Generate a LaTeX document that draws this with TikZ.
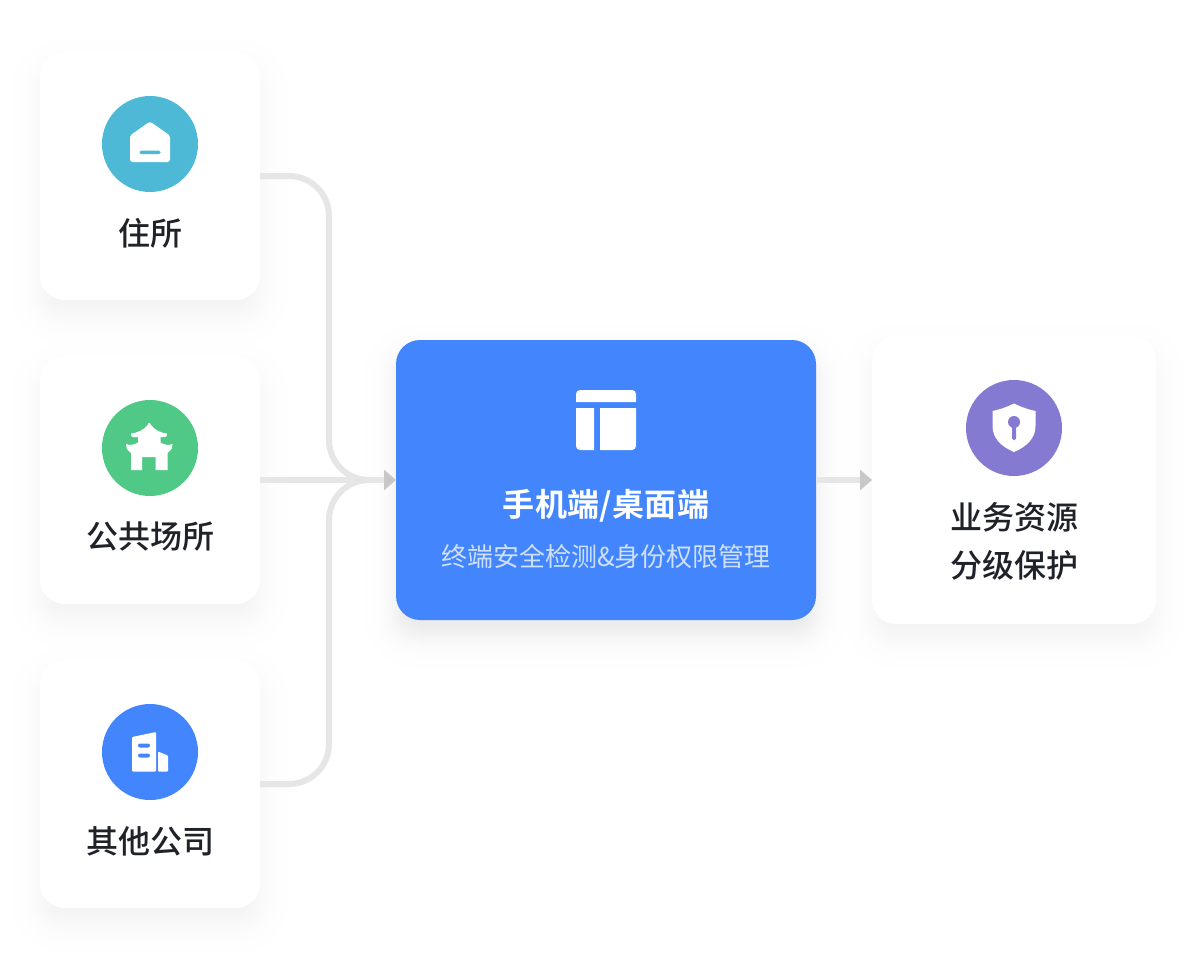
\documentclass[tikz,border=0pt]{standalone}
\usepackage{fontspec}
\usetikzlibrary{arrows.meta}
\newfontfamily\cjkmed{Noto Sans CJK SC Medium}
\newfontfamily\cjkreg{Noto Sans CJK SC}
\newfontfamily\cjkbold[LetterSpace=1]{Noto Sans CJK SC Bold}
\definecolor{tealc}{HTML}{4DB9D6}
\definecolor{greenc}{HTML}{4FC985}
\definecolor{bluec}{HTML}{4285FD}
\definecolor{purplec}{HTML}{857AD2}
\definecolor{linec}{HTML}{E6E6E6}
\definecolor{tipc}{HTML}{C8C8C8}
\definecolor{inkc}{HTML}{1F2329}
\definecolor{subc}{HTML}{CFE0FE}
\tikzset{
  card/.style={fill=white,rounded corners=24pt,inner sep=0pt,outer sep=0pt,minimum width=220pt,minimum height=248pt},
  rcard/.style={card,minimum width=284pt,minimum height=288pt},
  mainbox/.style={fill=bluec,rounded corners=24pt,inner sep=0pt,outer sep=0pt,minimum width=420pt,minimum height=280pt},
  badge/.style={circle,inner sep=0pt,outer sep=0pt,minimum size=96pt},
  label/.style={inner sep=0pt,text=inkc,font=\fontsize{32}{48}\selectfont\cjkmed,align=center},
  title/.style={inner sep=0pt,text=white,font=\fontsize{32}{40}\selectfont\cjkbold},
  subtitle/.style={inner sep=0pt,text=subc,font=\fontsize{26}{32}\selectfont\cjkreg},
  link/.style={draw=linec,line width=6pt,rounded corners=40pt},
  tiplink/.style={draw=linec,line width=6pt,-{Triangle[length=12pt,width=20pt,color=tipc]}},
  icon/.style={fill=white,draw=none}
}
% soft shadow: cx cy w h strength(percent black at the core)
\newcommand{\softshade}[5]{%
  \foreach \g in {44,43,...,-20}{%
    \pgfmathsetmacro{\pp}{#5/(1+exp(1.7*\g/14))}%
    \pgfmathsetmacro{\rr}{max(24+\g,4)}%
    \fill[black!\pp,rounded corners=\rr pt,blend mode=darken]
      (#1-#3/2-\g,#2-#4/2-\g+16) rectangle (#1+#3/2+\g,#2+#4/2+\g+16);
  }%
}
\begin{document}
\begin{tikzpicture}[x=1pt,y=-1pt]
\useasboundingbox (0,0) rectangle (1196,964);
\softshade{150}{176}{220}{248}{5}
\softshade{150}{480}{220}{248}{5}
\softshade{150}{784}{220}{248}{5}
\softshade{1014}{480}{284}{288}{5}
\softshade{606}{480}{420}{280}{9}

\node[card] (home) at (150,176) {};
\node[card] (pub) at (150,480) {};
\node[card] (corp) at (150,784) {};
\node[mainbox] (main) at (606,480) {};
\node[rcard] (safe) at (1014,480) {};

\coordinate (busA) at (329,176);
\coordinate (busB) at (329,784);
\coordinate (busC) at (329,480);
\path[link] (home.east) -- (busA) -- (busC) -- (369,480);
\path[link] (corp.east) -- (busB) -- (busC) -- (369,480);
\path[tiplink] (pub.east) -- (main.west);
\path[tiplink] (main.east) -- (safe.west);

\node[badge,fill=tealc] (b1) at (150,144) {};
\node[badge,fill=greenc] (b2) at (150,448) {};
\node[badge,fill=bluec] (b3) at (150,752) {};
\node[badge,fill=purplec] (b4) at (1014,428) {};

% house
\fill[icon,rounded corners=2.5pt] (130,162) -- (130,135.5) -- (150,121.5) -- (170,135.5) -- (170,162) -- cycle;
\fill[tealc,rounded corners=1.5pt] (139.5,150.5) rectangle (160.5,154);
% temple
\fill[icon] (131,470) -- (131,453) -- (130,452) .. controls (127,450) and (125.5,447) .. (126,444)
  .. controls (130,445.5) and (134,445) .. (138,442.5) -- (138,437) -- (133,437) .. controls (131.5,437) and (130.5,435.5) .. (131,433.5)
  .. controls (137,433) and (144,430) .. (147.5,425) -- (148.5,423) -- (150,423) -- (151,425)
  .. controls (154.5,430) and (161,433) .. (167,433.5) .. controls (167.5,435.5) and (166.5,437) .. (165,437)
  -- (160.5,437) -- (160.5,442.5) .. controls (164.5,445) and (168.5,445.5) .. (172.5,444)
  .. controls (173,447) and (171.5,450) .. (168.5,452) -- (167.5,453) -- (167.5,470) -- (155.5,470) -- (155.5,457) -- (142,457) -- (142,470) -- cycle;
% building
\fill[icon,rounded corners=1pt] (132,771.5) -- (132,737) -- (156,732) -- (156,771.5) -- cycle;
\fill[icon,rounded corners=1pt] (158,771.5) -- (158,751.5) -- (168,755.5) -- (168,771.5) -- cycle;
\fill[bluec,rounded corners=2pt] (138,743.5) rectangle (150,747.5);
\fill[bluec,rounded corners=2pt] (138,753.5) rectangle (150,757.5);
% shield
\fill[icon] (1014,403.5) .. controls (1020,406.5) and (1028,409.5) .. (1035.5,411)
  -- (1035.5,426) .. controls (1035.5,438) and (1027,446.5) .. (1014,452)
  .. controls (1001,446.5) and (992.5,438) .. (992.5,426) -- (992.5,411)
  .. controls (1000,409.5) and (1008,406.5) .. (1014,403.5) -- cycle;
\fill[purplec] (1014,422) circle (6pt);
\fill[purplec,rounded corners=1.5pt] (1012,424) rectangle (1016,440);
% window
\fill[icon] (576,402) [rounded corners=4pt] -- (576,390) -- (636,390) [sharp corners] -- (636,402) -- cycle;
\fill[icon] (576,408) [rounded corners=4pt] -- (576,450) [sharp corners] -- (594,450) -- (594,408) -- cycle;
\fill[icon] (600,408) -- (600,450) [rounded corners=4pt] -- (636,450) [sharp corners] -- (636,408) -- cycle;

\node[label] (t1) at (150,233) {住所};
\node[label] (t2) at (150,537) {公共场所};
\node[label] (t3) at (150,841) {其他公司};
\node[label] (t4) at (1014,541) {业务资源\\分级保护};
\node[title] (t5) at (606,506) {手机端/桌面端};
\node[subtitle] (t6) at (606,557) {终端安全检测\&身份权限管理};
\end{tikzpicture}
\end{document}
